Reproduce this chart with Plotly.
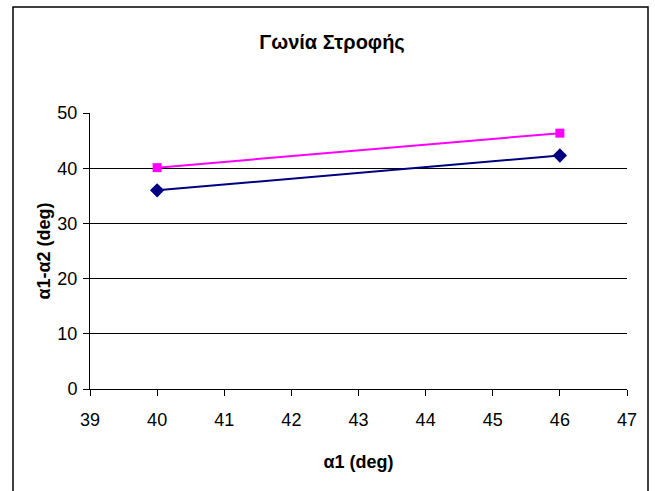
import plotly.graph_objects as go

x_vals = [40, 46]
series_navy = [36.0, 42.3]
series_pink = [40.1, 46.35]
x_ticks = [39, 40, 41, 42, 43, 44, 45, 46, 47]
y_ticks = [0, 10, 20, 30, 40, 50]

FONT = "Liberation Sans, Arial, sans-serif"

fig = go.Figure()
fig.add_trace(go.Scatter(x=x_vals, y=series_navy, mode="lines+markers",
                         line=dict(color="#000080", width=2),
                         marker=dict(symbol="diamond", size=11, color="#000080"),
                         showlegend=False))
fig.add_trace(go.Scatter(x=x_vals, y=series_pink, mode="lines+markers",
                         line=dict(color="#FF00FF", width=2),
                         marker=dict(symbol="square", size=9, color="#FF00FF"),
                         showlegend=False))

L, R, T, B = 90, 28, 113, 102
W, H = 655, 491
pw, ph = W - L - R, H - T - B

def px(xp):
    return (xp - L) / pw

def py(yp):
    return (H - B - yp) / ph

fig.update_layout(
    width=W, height=H,
    margin=dict(l=L, r=R, t=T, b=B),
    paper_bgcolor="white", plot_bgcolor="white",
    font=dict(family=FONT, size=18, color="black"),
    title=dict(text="<b>Γωνία Στροφής</b>", x=332 / W, xref="container", xanchor="center",
               y=1 - 42 / H, yanchor="middle", yref="container",
               font=dict(family=FONT, size=20, color="black")),
    xaxis=dict(range=[39, 47], tickvals=x_ticks, showgrid=False, zeroline=False,
               showline=True, linecolor="black", linewidth=1,
               ticks="outside", ticklen=6, tickcolor="black",
               tickfont=dict(size=18), fixedrange=True, ticklabelstandoff=8,
               title=dict(text="<b>α1 (deg)</b>", font=dict(size=18), standoff=26)),
    yaxis=dict(range=[0, 50], tickvals=y_ticks, showgrid=True, gridcolor="black",
               gridwidth=1, zeroline=False, showline=True, linecolor="black",
               linewidth=1, ticks="outside", ticklen=6, tickcolor="black",
               tickfont=dict(size=18), fixedrange=True, ticklabelstandoff=2,
               title=dict(text="<b>α1-α2 (deg)</b>", font=dict(size=18), standoff=2)),
    shapes=[dict(type="rect", xref="paper", yref="paper",
                 x0=px(13), x1=px(648), y0=py(495), y1=py(7),
                 line=dict(color="black", width=1.5), fillcolor="rgba(0,0,0,0)",
                 layer="below")],
)

fig.write_html("out.html")
